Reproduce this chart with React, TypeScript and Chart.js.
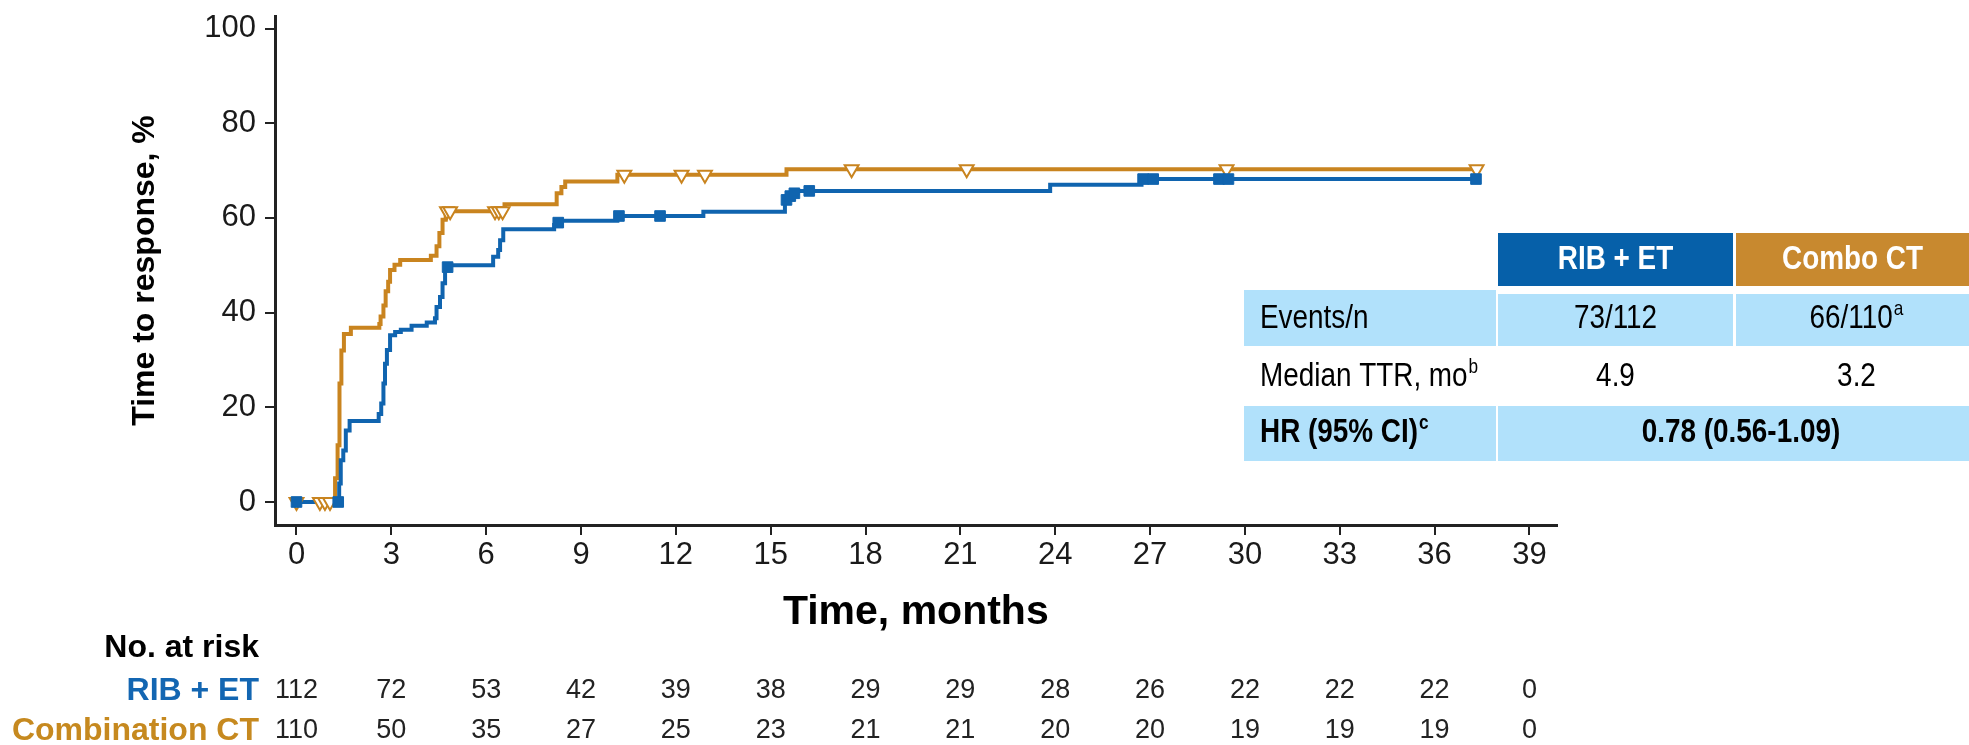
import React, { useEffect, useRef } from 'react';
import { Chart, registerables } from 'chart.js';

Chart.register(...registerables);

// ---------- data ----------
const monthTicks = [0, 3, 6, 9, 12, 15, 18, 21, 24, 27, 30, 33, 36, 39];
const pctTicks = [0, 20, 40, 60, 80, 100];

// RIB + ET cumulative response (step points: time, value after step)
const ribTimes = [0, 1.35, 1.40, 1.48, 1.56, 1.68, 2.60, 2.68, 2.75, 2.80, 2.86, 2.96, 3.12, 3.30, 3.64, 4.12, 4.38, 4.43, 4.54, 4.62, 4.70, 4.85, 6.22, 6.38, 6.44, 6.54, 8.15, 8.30, 10.15, 12.87, 15.45, 15.55, 15.72, 15.85, 23.84, 26.73, 37.31];
const ribValues = [0, 3.9, 8.8, 10.9, 15.1, 17.1, 18.6, 20.8, 25.0, 29.2, 32.1, 35.2, 35.9, 36.4, 37.2, 37.9, 38.8, 41.2, 43.3, 46.2, 49.4, 50.0, 51.8, 53.2, 55.3, 57.6, 58.5, 59.4, 60.4, 61.3, 63.5, 64.6, 65.2, 65.7, 67.0, 68.2, 68.2];

// Combination CT cumulative response
const ctTimes = [0, 1.22, 1.30, 1.36, 1.42, 1.50, 1.72, 2.62, 2.66, 2.75, 2.82, 2.90, 2.96, 3.10, 3.28, 4.25, 4.43, 4.52, 4.62, 4.72, 6.58, 8.23, 8.38, 8.50, 10.15, 15.50, 37.33];
const ctValues = [0, 5.0, 12.0, 25.0, 32.0, 35.5, 36.8, 37.6, 39.2, 41.5, 44.5, 46.5, 49.0, 50.1, 51.1, 52.0, 54.0, 56.8, 59.6, 61.4, 62.9, 65.2, 66.5, 67.7, 69.1, 70.3, 70.3];

// censored observations
const ribCensorTimes = [0, 1.32, 4.78, 8.28, 10.2, 11.5, 15.5, 15.62, 15.75, 16.22, 26.78, 27.1, 29.18, 29.48, 37.31];
const ribCensorValues = [0, 0, 49.6, 59.0, 60.4, 60.4, 63.8, 64.6, 65.2, 65.7, 68.2, 68.2, 68.2, 68.2, 68.2];
const ctCensorTimes = [0, 0.74, 0.9, 1.06, 4.76, 4.86, 6.28, 6.40, 6.52, 10.37, 12.18, 12.92, 17.56, 21.2, 29.42, 37.33];
const ctCensorValues = [0, 0, 0, 0, 61.4, 61.4, 61.4, 61.4, 61.4, 69.1, 69.1, 69.1, 70.3, 70.3, 70.3, 70.3];

// numbers at risk
const ribAtRisk = [112, 72, 53, 42, 39, 38, 29, 29, 28, 26, 22, 22, 22, 0];
const ctAtRisk = [110, 50, 35, 27, 25, 23, 21, 21, 20, 20, 19, 19, 19, 0];

// summary table
const armNames = ['RIB + ET', 'Combo CT'];
const rowLabels = ['Events/n', 'Median TTR, mo', 'HR (95% CI)'];
const rowLabelSups = ['', 'b', 'c'];
const ribStats = ['73/112', '4.9'];
const ctStats = ['66/110', '3.2'];
const ctStatSups = ['a', ''];
const hrText = '0.78 (0.56-1.09)';

// ---------- styles ----------
const FONT = '"Liberation Sans", Arial, Helvetica, sans-serif';
const BLUE = '#1064AF';
const ORANGE = '#C9841F';
const HEAD_BLUE = '#0660A9';
const HEAD_ORANGE = '#C8892F';
const CELL = '#B1E1FB';
const INK = '#1a1a1a';

function drawText(
  ctx: CanvasRenderingContext2D,
  s: string,
  x: number,
  y: number,
  font: string,
  color: string,
  align: 'left' | 'center' | 'right',
  sx = 1,
  sup = '',
  supFont = ''
) {
  ctx.save();
  ctx.font = font;
  const w1 = ctx.measureText(s).width * sx;
  let w2 = 0;
  if (sup) {
    ctx.font = supFont;
    w2 = ctx.measureText(sup).width * sx + 1;
  }
  const total = w1 + w2;
  const left = align === 'center' ? x - total / 2 : align === 'right' ? x - total : x;
  ctx.fillStyle = color;
  ctx.textBaseline = 'middle';
  ctx.textAlign = 'left';
  ctx.save();
  ctx.translate(left, y);
  ctx.scale(sx, 1);
  ctx.font = font;
  ctx.fillText(s, 0, 0);
  ctx.restore();
  if (sup) {
    ctx.save();
    ctx.translate(left + w1 + 1, y - 10);
    ctx.scale(sx, 1);
    ctx.font = supFont;
    ctx.fillText(sup, 0, 0);
    ctx.restore();
  }
  ctx.restore();
}

const atRiskPlugin = {
  id: 'atRisk',
  afterDraw(chart: any) {
    const ctx = chart.ctx as CanvasRenderingContext2D;
    const xs = chart.scales.x;
    const labelRight = 259;
    drawText(ctx, 'No. at risk', labelRight, 648, `bold 32px ${FONT}`, '#000', 'right');
    drawText(ctx, 'RIB + ET', labelRight, 691, `bold 32px ${FONT}`, '#1366B2', 'right');
    drawText(ctx, 'Combination CT', labelRight, 731, `bold 32px ${FONT}`, '#C6891F', 'right');
    monthTicks.forEach((m, i) => {
      const px = xs.getPixelForValue(m);
      drawText(ctx, String(ribAtRisk[i]), px, 691, `27px ${FONT}`, '#222', 'center');
      drawText(ctx, String(ctAtRisk[i]), px, 731, `27px ${FONT}`, '#222', 'center');
    });
  },
};

const tablePlugin = {
  id: 'summaryTable',
  afterDraw(chart: any) {
    const ctx = chart.ctx as CanvasRenderingContext2D;
    const sx = 0.82;
    const f = `34px ${FONT}`;
    const fb = `bold 34px ${FONT}`;
    const fs = `21px ${FONT}`;
    const fsb = `bold 21px ${FONT}`;
    const c1 = [1498, 1733];
    const c2 = [1736, 1969];
    const lab = [1244, 1496];
    ctx.save();
    // header
    ctx.fillStyle = HEAD_BLUE;
    ctx.fillRect(c1[0], 233, c1[1] - c1[0], 53);
    ctx.fillStyle = HEAD_ORANGE;
    ctx.fillRect(c2[0], 233, c2[1] - c2[0], 53);
    // row 1
    ctx.fillStyle = CELL;
    ctx.fillRect(lab[0], 290, lab[1] - lab[0], 56);
    ctx.fillRect(c1[0], 294, c1[1] - c1[0], 52);
    ctx.fillRect(c2[0], 294, c2[1] - c2[0], 52);
    // row 3
    ctx.fillRect(lab[0], 406, lab[1] - lab[0], 55);
    ctx.fillRect(c1[0], 406, c2[1] - c1[0], 55);
    ctx.restore();

    const m1 = (c1[0] + c1[1]) / 2;
    const m2 = (c2[0] + c2[1]) / 2;
    drawText(ctx, armNames[0], m1, 260, fb, '#fff', 'center', sx);
    drawText(ctx, armNames[1], m2, 260, fb, '#fff', 'center', sx);

    const rowY = [319, 377, 433];
    const lx = 1260;
    drawText(ctx, rowLabels[0], lx, rowY[0], f, '#000', 'left', sx, rowLabelSups[0], fs);
    drawText(ctx, rowLabels[1], lx, rowY[1], f, '#000', 'left', sx, rowLabelSups[1], fs);
    drawText(ctx, rowLabels[2], lx, rowY[2], fb, '#000', 'left', sx, rowLabelSups[2], fsb);
    for (let r = 0; r < 2; r++) {
      drawText(ctx, ribStats[r], m1, rowY[r], f, '#000', 'center', sx);
      drawText(ctx, ctStats[r], m2 + 4, rowY[r], f, '#000', 'center', sx, ctStatSups[r], fs);
    }
    drawText(ctx, hrText, 1741, rowY[2], fb, '#000', 'center', sx);
  },
};

export default function App() {
  const canvasRef = useRef<HTMLCanvasElement | null>(null);

  useEffect(() => {
    document.body.style.margin = '0';
    const canvas = canvasRef.current;
    if (!canvas) return;

    const ribLine = ribTimes.map((t, i) => ({ x: t, y: ribValues[i] }));
    const ctLine = ctTimes.map((t, i) => ({ x: t, y: ctValues[i] }));
    const ribCens = ribCensorTimes.map((t, i) => ({ x: t, y: ribCensorValues[i] }));
    const ctCens = ctCensorTimes.map((t, i) => ({ x: t, y: ctCensorValues[i] }));

    const axisColor = '#222';

    const chart = new Chart(canvas, {
      type: 'line',
      data: {
        datasets: [
          {
            label: 'RIB + ET censored',
            data: ribCens,
            showLine: false,
            pointStyle: 'rect',
            pointRadius: 7.5,
            pointBackgroundColor: BLUE,
            pointBorderColor: BLUE,
            pointBorderWidth: 1,
            order: 0,
          } as any,
          {
            label: 'Combination CT censored',
            data: ctCens,
            showLine: false,
            pointStyle: 'triangle',
            rotation: 180,
            pointRadius: 8,
            pointBackgroundColor: '#ffffff',
            pointBorderColor: ORANGE,
            pointBorderWidth: 2,
            order: 0,
          } as any,
          {
            label: 'RIB + ET',
            data: ribLine,
            stepped: 'before',
            borderColor: BLUE,
            borderWidth: 4,
            pointRadius: 0,
            fill: false,
            order: 1,
          } as any,
          {
            label: 'Combination CT',
            data: ctLine,
            stepped: 'before',
            borderColor: ORANGE,
            borderWidth: 4,
            pointRadius: 0,
            fill: false,
            order: 2,
          } as any,
        ],
      },
      options: {
        responsive: false,
        maintainAspectRatio: false,
        animation: false,
        devicePixelRatio: 1,
        events: [],
        layout: { padding: { left: 126, right: 412.4, top: 16, bottom: 107.6 } },
        plugins: {
          legend: { display: false },
          tooltip: { enabled: false },
          title: { display: false },
        },
        scales: {
          x: {
            type: 'linear',
            min: -0.68,
            max: 39.86,
            afterBuildTicks: (s: any) => {
              s.ticks = monthTicks.map((v) => ({ value: v }));
            },
            afterFit: (s: any) => {
              s.height = 112.4;
              s.paddingLeft = 0;
              s.paddingRight = 0;
            },
            ticks: {
              font: { family: FONT, size: 31 },
              color: INK,
              padding: 2,
              maxRotation: 0,
              autoSkip: false,
            },
            grid: { drawOnChartArea: false, drawTicks: true, tickLength: 10, color: axisColor, lineWidth: 2 },
            border: { display: true, color: axisColor, width: 3 },
            title: {
              display: true,
              text: 'Time, months',
              font: { family: FONT, size: 41, weight: 'bold' },
              color: '#000',
              padding: 0,
            },
          },
          y: {
            type: 'linear',
            min: -4.86,
            max: 102.64,
            afterBuildTicks: (s: any) => {
              s.ticks = pctTicks.map((v) => ({ value: v }));
            },
            afterFit: (s: any) => {
              s.width = 149;
              s.paddingTop = 0;
              s.paddingBottom = 0;
            },
            ticks: {
              font: { family: FONT, size: 31 },
              color: INK,
              padding: 9,
            },
            grid: { drawOnChartArea: false, drawTicks: true, tickLength: 10, color: axisColor, lineWidth: 2 },
            border: { display: true, color: axisColor, width: 3 },
            title: {
              display: true,
              text: 'Time to response, %',
              font: { family: FONT, size: 32, weight: 'bold' },
              color: '#000',
              padding: 0,
            },
          },
        },
      } as any,
      plugins: [atRiskPlugin, tablePlugin],
    });

    return () => {
      chart.destroy();
    };
  }, []);

  return (
    <canvas
      ref={canvasRef}
      width={1969}
      height={745}
      style={{ position: 'absolute', left: 0, top: 0, width: 1969, height: 745, display: 'block' }}
    />
  );
}
